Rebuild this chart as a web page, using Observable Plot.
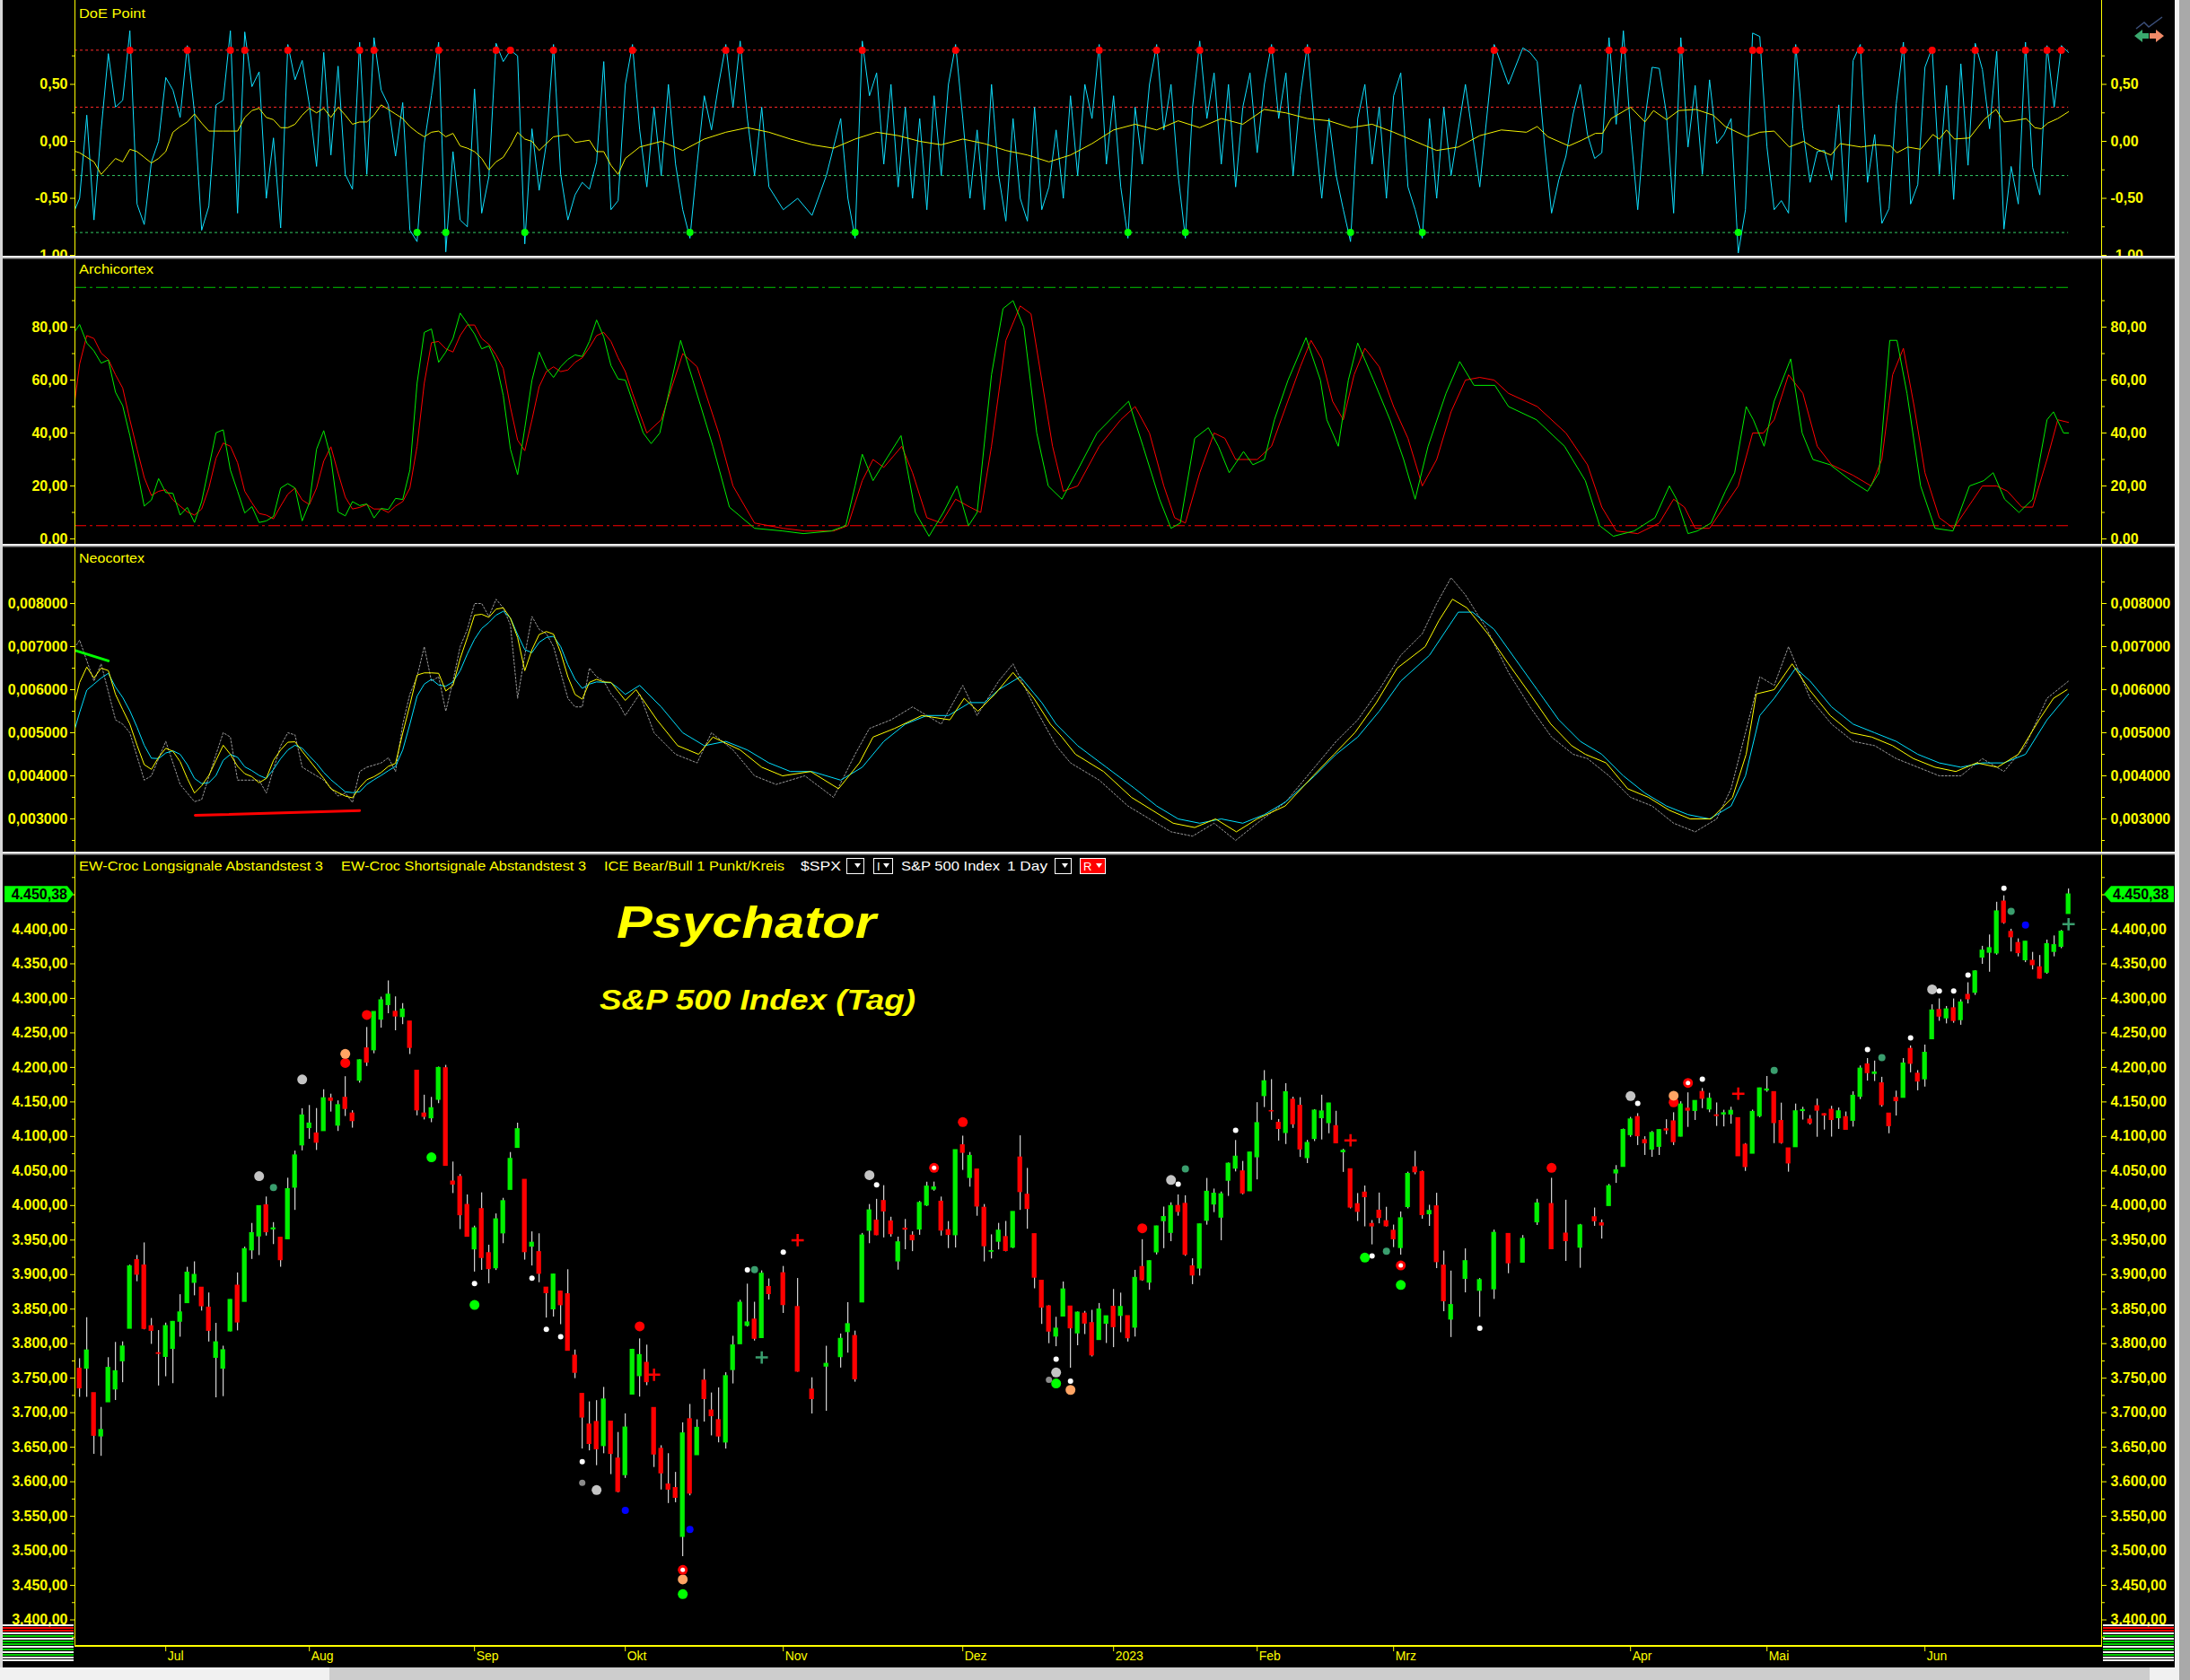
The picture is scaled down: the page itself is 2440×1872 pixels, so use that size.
<!DOCTYPE html>
<html><head><meta charset="utf-8">
<script src="https://cdn.jsdelivr.net/npm/d3@7"></script>
<script src="https://cdn.jsdelivr.net/npm/@observablehq/plot@0.6"></script>
<style>
html,body{margin:0;padding:0;background:#000;}
#wrap{position:relative;width:2440px;height:1872px;background:#000;overflow:hidden;font-family:"Liberation Sans",Arial,sans-serif;}
</style></head><body><div id="wrap"></div>
<script>
// ---------------- DATA ----------------
const monthLabels = ["Jul","Aug","Sep","Okt","Nov","Dez","2023","Feb","Mrz","Apr","Mai","Jun"];
const monthStartSlots = [12,32,55,76,98,123,144,164,183,216,235,257];
const emptySlots = [97,99,101,103,105,192,194,196,198,200,202,204,206,208,210];

const open = [
3763.5,3764.0,3728.2,3665.9,3715.3,3733.9,3774.7,3821.8,3920.8,3913.0,3825.1,3786.0,
3781.0,3792.6,3832.0,3858.9,3888.3,3880.9,3852.0,3779.7,3764.0,3818.0,3883.8,3860.7,3935.3,3955.5,4000.2,3965.7,3953.2,3951.4,4026.1,4087.3,
4112.4,4104.2,4108.0,4154.9,4115.9,4155.9,4133.1,4181.0,4227.4,4225.0,4269.4,4290.5,4280.4,4273.1,4266.3,4195.1,4133.1,4126.6,4153.3,4198.7,4034.6,4041.3,4000.7,
3936.7,3994.7,3930.9,3909.4,3959.9,4022.9,4083.7,4037.1,3940.7,3932.4,3881.0,3849.9,3875.2,3871.4,3782.4,3727.1,3682.7,3686.4,3651.9,3687.0,3633.5,
3609.8,3726.5,3753.2,3772.0,3706.7,3647.5,3595.9,3590.8,3520.4,3690.4,3638.7,3746.3,3703.1,3689.1,3657.1,3762.0,3799.4,3826.0,3834.7,3808.3,3881.9,
3901.8,3852.9,3733.3,3767.0,3780.7,3817.0,3810.9,3859.9,3963.7,3978.0,4006.4,3976.8,3919.3,3966.4,3956.2,3965.5,4000.3,4023.3,4005.4,3964.2,3957.2,
4087.1,4040.2,4052.0,3996.6,3933.3,3947.8,3954.2,3939.3,4069.4,4015.5,3958.4,3890.9,3853.8,3810.5,3839.5,3853.6,3815.1,3843.3,3829.6,3805.5,3829.1,
3853.3,3840.4,3839.7,3823.4,3910.8,3888.6,3932.4,3977.6,3960.6,3999.3,4002.3,3911.8,3909.0,3978.1,4001.7,3982.7,4036.1,4053.7,4049.3,4020.9,
4070.1,4158.7,4136.7,4119.6,4105.2,4153.1,4144.3,4068.9,4096.6,4126.7,4119.5,4114.8,4077.4,4052.4,4001.8,4018.6,3973.2,3992.4,3977.2,
3963.3,3938.7,3998.0,4055.2,4048.3,3987.6,3998.7,3912.8,3835.1,3894.0,3876.7,3878.9,3958.7,3917.5,3975.9,4002.0,3959.2,3939.2,3982.9,3974.1,3999.5,4046.7,4056.2,
4102.2,4128.0,4094.5,4081.2,4085.2,4110.3,4121.7,4100.0,4140.1,4137.2,4164.3,4139.3,4130.5,4132.1,4132.1,4126.4,4087.8,4075.3,4129.6,
4166.8,4164.1,4122.3,4082.6,4084.7,4137.0,4124.3,4143.7,4132.2,4138.5,4126.7,4127.9,4122.9,4157.7,4204.2,4190.8,4176.8,4133.0,4155.7,4156.2,4226.7,4190.7,
4183.0,4241.0,4283.0,4271.3,4285.5,4268.7,4304.9,4308.3,4359.3,4366.3,4365.3,4440.0,4396.1,4380.0,4355.4,4354.2,4344.8,4337.4,4367.5,4374.9,4422.4];
const high = [
3778.2,3837.6,3728.2,3707.7,3779.7,3801.8,3802.6,3913.7,3927.7,3945.9,3836.5,3819.0,
3829.8,3832.2,3870.9,3910.6,3918.5,3880.9,3873.4,3829.4,3796.4,3863.6,3902.4,3939.8,3974.1,3999.3,4012.4,3975.3,3953.2,4039.6,4078.9,4140.2,
4144.9,4140.5,4167.7,4161.3,4151.6,4186.6,4137.3,4211.0,4257.9,4280.5,4301.8,4325.3,4302.2,4292.5,4266.3,4195.1,4159.8,4156.6,4200.5,4203.0,4063.0,4045.0,4015.4,
3970.2,4018.4,3942.6,3987.9,4010.5,4076.8,4119.3,4037.1,3961.9,3959.1,3880.9,3900.5,3876.0,3907.1,3790.8,3727.1,3715.7,3717.5,3736.7,3687.0,3671.4,
3698.4,3791.9,3806.9,3797.9,3706.7,3652.2,3640.7,3613.6,3685.4,3712.0,3689.7,3762.8,3728.6,3736.0,3757.9,3810.7,3862.9,3886.2,3860.0,3905.4,3893.7,
3911.8,3894.4,3750.6,3796.3,3814.0,3859.4,3818.2,3959.6,4001.5,4009.0,4028.8,3983.1,3954.3,3979.9,3962.0,4005.9,4033.8,4034.0,4012.3,3976.8,4080.1,
4100.5,4076.8,4052.5,4001.5,3957.6,3974.2,3977.0,3990.7,4101.0,4053.8,3958.4,3890.9,3854.9,3838.2,3889.3,3853.6,3845.8,3846.7,3848.3,3858.2,3839.9,
3878.5,3873.2,3839.7,3906.2,3950.6,3919.8,3970.1,3997.8,4004.0,4015.4,4014.2,3922.9,3973.0,4039.3,4023.9,4019.6,4061.6,4094.2,4063.9,4077.2,
4149.0,4195.4,4182.4,4124.6,4176.5,4156.9,4156.2,4094.4,4138.9,4159.8,4148.1,4136.5,4081.5,4052.4,4017.4,4028.3,3978.3,4018.1,3997.5,
3971.7,3990.8,4048.3,4078.5,4050.0,4000.4,4017.8,3934.1,3905.1,3937.3,3894.3,3964.5,3958.9,3956.6,4009.1,4039.5,4007.7,3972.7,3996.4,3979.2,4030.6,4057.9,4110.8,
4127.7,4133.1,4099.7,4107.3,4109.5,4124.3,4134.4,4150.3,4163.2,4151.7,4169.5,4162.6,4148.6,4138.0,4142.4,4126.4,4089.7,4138.2,4170.1,
4186.9,4164.1,4148.3,4082.6,4147.0,4142.3,4130.4,4154.3,4132.8,4143.7,4141.3,4135.5,4164.7,4202.2,4212.9,4209.2,4185.7,4133.0,4165.7,4212.9,4231.1,4195.4,
4232.4,4290.7,4299.3,4288.3,4299.2,4298.0,4322.6,4340.1,4375.4,4391.8,4439.2,4448.5,4400.1,4386.2,4382.3,4366.6,4362.1,4384.4,4390.4,4398.4,4458.5];
const low = [
3722.3,3722.3,3639.8,3636.9,3715.3,3717.7,3743.5,3821.8,3889.7,3820.1,3799.0,3738.7,
3752.1,3742.1,3809.4,3858.9,3869.3,3847.2,3802.4,3721.6,3723.3,3817.2,3818.6,3860.7,3922.0,3927.6,3955.8,3943.5,3910.7,3951.4,3993.0,4079.2,
4096.0,4079.8,4108.0,4135.4,4107.3,4129.0,4112.1,4177.3,4201.4,4219.8,4256.9,4277.8,4253.1,4262.0,4218.7,4129.9,4124.0,4120.0,4147.6,4057.7,4017.4,3965.2,3954.5,
3903.7,3906.2,3886.8,3906.0,3944.8,4022.9,4083.7,3921.0,3912.5,3888.3,3837.1,3838.5,3827.5,3789.5,3749.4,3647.5,3644.8,3623.3,3640.6,3610.4,3584.1,
3604.9,3726.5,3722.7,3739.2,3620.7,3588.1,3568.5,3569.7,3491.6,3579.7,3638.7,3686.5,3666.5,3656.4,3647.4,3741.7,3799.4,3824.1,3803.8,3808.3,3863.2,
3843.8,3758.7,3698.2,3702.1,3764.7,3786.3,3744.2,3859.9,3944.8,3956.4,3953.2,3954.3,3906.5,3936.0,3933.3,3956.9,3998.7,4020.8,3955.8,3937.7,3938.6,
4050.9,4026.6,3984.5,3918.4,3922.7,3935.8,3933.0,3937.7,3993.0,3965.7,3879.5,3827.9,3800.0,3795.6,3839.5,3764.5,3797.0,3813.2,3780.8,3805.5,3800.3,
3794.3,3815.8,3802.4,3809.6,3890.4,3877.3,3928.5,3937.6,3947.7,3984.6,3926.6,3885.5,3897.9,3971.6,3989.8,3949.1,4013.3,4048.7,4015.6,4020.4,
4037.2,4141.9,4123.4,4093.4,4088.4,4111.7,4069.7,4060.8,4092.7,4095.0,4104.0,4089.4,4048.0,3995.2,3976.9,3969.2,3943.1,3973.6,3969.0,
3939.1,3928.2,3995.2,4044.6,3980.3,3969.8,3908.7,3846.3,3808.9,3873.6,3838.2,3864.1,3901.3,3916.9,3971.2,3936.2,3919.1,3909.2,3969.9,3951.5,3999.5,4032.1,4056.2,
4098.8,4086.9,4072.6,4069.8,4072.5,4102.6,4086.9,4099.4,4113.2,4123.2,4140.4,4134.5,4114.6,4113.9,4117.8,4071.4,4049.4,4075.3,4127.2,
4164.1,4089.7,4088.9,4048.3,4084.7,4123.8,4116.7,4098.9,4109.3,4099.1,4110.3,4109.9,4113.6,4153.5,4180.2,4179.7,4142.5,4104.0,4129.7,4156.2,4192.2,4166.2,
4171.6,4241.0,4266.8,4263.1,4264.0,4261.1,4292.0,4304.4,4349.3,4337.9,4362.6,4407.4,4367.2,4360.1,4351.8,4341.3,4328.1,4335.0,4360.2,4372.0,4422.4];
const close = [
3735.5,3790.0,3666.8,3674.8,3764.8,3759.9,3795.7,3911.7,3900.1,3821.6,3818.8,3785.4,
3825.3,3831.4,3845.1,3902.6,3899.4,3854.4,3818.8,3801.8,3790.4,3863.2,3830.9,3936.7,3959.9,3999.0,3961.6,3966.8,3921.1,4023.6,4072.4,4130.3,
4118.6,4091.2,4155.2,4151.9,4145.2,4140.1,4122.5,4210.2,4207.3,4280.2,4297.1,4305.2,4274.0,4283.7,4228.5,4138.0,4128.7,4140.8,4199.1,4057.7,4030.6,3986.2,3955.0,
3966.9,3924.3,3908.2,3979.9,4006.2,4067.4,4110.4,3932.7,3946.0,3901.4,3873.3,3899.9,3855.9,3789.9,3758.0,3693.2,3655.0,3647.3,3719.0,3640.5,3585.6,
3678.4,3790.9,3783.3,3744.5,3639.7,3612.4,3588.8,3577.0,3669.9,3583.1,3678.0,3720.0,3695.2,3665.8,3752.8,3797.3,3859.1,3830.6,3807.3,3901.1,3872.0,
3856.1,3759.7,3719.9,3770.6,3806.8,3828.1,3748.6,3956.4,3992.9,3957.3,3991.7,3958.8,3946.6,3965.3,3949.9,4003.6,4027.3,4026.1,3963.9,3957.6,4080.1,
4076.6,4071.7,3998.8,3941.3,3933.9,3963.5,3934.4,3990.6,4019.7,3995.3,3895.8,3852.4,3817.7,3821.6,3878.4,3822.4,3844.8,3829.3,3783.2,3849.3,3839.5,
3824.1,3853.0,3808.1,3895.1,3892.1,3919.3,3969.6,3983.2,3999.1,3991.0,3928.9,3898.9,3972.6,4019.8,4017.0,4016.2,4060.4,4070.6,4017.8,4076.6,
4119.2,4179.8,4136.5,4111.1,4164.0,4117.9,4081.5,4090.5,4137.3,4136.1,4147.6,4090.4,4079.1,3997.3,3991.1,4012.3,3970.0,3982.2,3970.2,
3951.4,3981.4,4045.6,4048.4,3986.4,3992.0,3918.3,3861.6,3855.8,3919.3,3891.9,3960.3,3916.6,3951.6,4002.9,3937.0,3948.7,3971.0,3977.5,3971.3,4027.8,4050.8,4109.3,
4124.5,4100.6,4090.4,4105.0,4109.1,4108.9,4092.0,4146.2,4137.6,4151.3,4154.9,4154.5,4129.8,4133.5,4137.0,4071.6,4056.0,4135.4,4169.5,
4167.9,4119.6,4090.8,4061.2,4136.3,4138.1,4119.2,4137.6,4130.6,4124.1,4136.3,4109.9,4158.8,4198.1,4192.0,4192.6,4145.6,4115.2,4151.3,4205.5,4205.5,4179.8,
4221.0,4282.4,4273.8,4283.9,4267.5,4293.9,4298.9,4338.9,4369.0,4372.6,4425.8,4409.6,4388.7,4365.7,4381.9,4348.3,4328.8,4378.4,4376.9,4396.4,4450.38];

// signal markers on the price chart: [slot, price]
const sigGray = [[25,4042.6],[31,4182.5],[72,3588],[110,4044],[136,3758.3],[152,4037],[216,4158.5],[258,4313]];
const sigDarkGray = [[70,3598.5],[135,3747.6]];
const sigWhite = [[55,3887],[63,3894.7],[65,3820.7],[67,3810],[70,3629],[93,3906.7],[98,3932.6],[111,4030],[136,3777.4],[138,3745.6],[153,4031],[161,4109],[180,3927],[195,3822.5],[217,4148],[226,4183],[249,4225.9],[255,4242.6],[259,4310.6],[261,4310.6],[263,4333.7],[268,4459.6]];
const sigSea = [[27,4026],[94,3907.3],[154,4053],[182,3933.8],[236,4195.7],[251,4214.3],[269,4426]];
const sigRed = [[37,4206.4],[40,4276],[78,3825],[123,4120.9],[148,3967],[205,4054.6],[222,4149.5]];
const sigOrange = [[37,4219.6],[84,3458.6],[138,3733],[222,4159]];
const sigGreen = [[49,4069.8],[55,3856],[84,3437.3],[136,3742.3],[179,3924.6],[184,3884.9]];
const sigBlue = [[76,3558.5],[85,3531],[271,4406.2]];
const sigRing = [[84,3472.4],[119,4054.6],[184,3913.3],[224,4177.6]];
const sigRedPlus = [[80,3755],[100,3949.8],[177,4094.3],[231,4162]];
const sigSeaPlus = [[95,3780],[277,4407.4]];

// DoE Point
const doeLevelsRed = [0.8, 0.3];
const doeLevelsGreen = [-0.3, -0.8];
const doeCyanDense = [-0.5,0.23,-0.69,0.1,0.77,0.3,0.36,0.97,-0.55,-0.73,-0.18,0.0,0.56,0.45,0.21,0.84,0.25,-0.78,-0.57,0.32,0.36,0.97,-0.63,0.96,0.48,0.61,-0.5,0.03,-0.76,0.85,0.54,0.71,0.32,-0.22,0.78,-0.12,0.66,-0.29,-0.42,0.87,-0.29,0.91,0.45,0.32,-0.13,0.34,-0.78,-0.88,-0.02,0.4,0.87,-0.97,-0.09,-0.69,-0.75,0.46,-0.63,-0.31,0.86,0.7,0.8,0.75,-0.9,0.11,-0.43,-0.02,0.85,-0.29,-0.69,-0.47,-0.36,-0.42,-0.18,0.7,-0.6,-0.52,0.5];
const doeCyanMore = [[-1,-0.65],[77,0.85],[78,0.1],[79,-0.4],[80,0.3],[81,-0.3],[82,0.5],[83,-0.2],[84,-0.6],[85,-0.85],[86,-0.2],[87,0.4],[88,0.1],[89,0.5],[90,0.85],[91,0.3],[92,0.88],[93,0.2],[94,-0.3],[95,0.3],[96,-0.4],[98,-0.6],[100,-0.5],[102,-0.65],[104,-0.3],[106,0.2],[107,-0.5],[108,-0.85],[109,0.88],[110,0.4],[111,0.6],[112,-0.2],[113,0.5],[114,-0.4],[115,0.3],[116,-0.5],[117,0.2],[118,-0.6],[119,0.4],[120,-0.3],[121,0.5],[122,0.85],[123,0.2],[124,-0.5],[125,0.1],[126,-0.6],[127,0.5],[128,-0.3],[129,-0.7],[130,0.2],[131,-0.5],[132,-0.7],[133,0.3],[134,-0.6],[135,-0.4],[136,0.1],[137,-0.5],[138,0.4],[139,-0.3],[140,0.5],[141,0.2],[142,0.85],[143,-0.2],[144,0.4],[145,-0.4],[146,-0.85],[147,0.3],[148,-0.2],[149,0.5],[150,0.85],[151,0.1],[152,0.5],[153,-0.3],[154,-0.85],[155,0.3],[156,0.88],[157,0.2],[158,0.6],[159,-0.2],[160,0.5],[161,-0.4],[162,0.3],[163,0.6],[164,-0.1],[165,0.5],[166,0.85],[167,0.2],[168,0.6],[169,-0.3],[170,0.4],[171,0.85],[172,0.1],[173,-0.5],[174,0.2],[175,-0.3],[176,-0.6],[177,-0.88],[178,0.2],[179,0.5],[180,-0.2],[181,0.3],[182,-0.5],[183,0.4],[184,0.6],[185,-0.4],[186,-0.6],[187,-0.85],[188,0.2],[189,-0.5],[190,0.3],[191,-0.3],[193,0.5],[195,-0.4],[197,0.85],[199,0.5],[201,0.82],
[202,0.78],[203,0.7],[204,-0.02],[205,-0.63],[206,-0.34],[207,-0.13],[208,0.24],[209,0.5],[210,0.06],[211,-0.15],[212,-0.1],[213,0.91],[214,0.15],[215,0.97],[216,0.1],[217,-0.6],[218,0.19],[219,0.65],[220,0.64],[221,0.24],[222,-0.63],[223,0.91],[224,-0.05],[225,0.49],[226,-0.29],[227,0.54],[228,-0.02],[229,0.06],[230,0.2],[231,-0.98],[232,-0.6],[233,0.95],[234,0.92],[235,-0.05],[236,-0.6],[237,-0.52],[238,-0.63],[239,0.85],[240,0.11],[241,-0.36],[242,-0.09],[243,-0.08],[244,-0.34],[245,0.32],[246,-0.71],[247,0.71],[248,0.85],[249,-0.36],[250,0.06],[251,-0.72],[252,-0.59],[253,0.33],[254,0.87],[255,-0.55],[256,-0.38],[257,0.65],[258,0.82],[259,-0.29],[260,0.49],[261,-0.51],[262,0.68],[263,-0.21],[264,0.86],[265,0.63],[266,0.11],[267,0.79],[268,-0.77],[269,-0.22],[270,-0.55],[271,0.87],[272,-0.23],[273,-0.47],[274,0.84],[275,0.3],[276,0.84],[277,0.78]];
const doeYellowDense = [-0.1,-0.14,-0.18,-0.29,-0.22,-0.15,-0.18,-0.07,-0.09,-0.14,-0.19,-0.15,-0.09,0.08,0.13,0.17,0.24,0.16,0.09,0.09,0.09,0.09,0.09,0.21,0.27,0.29,0.21,0.19,0.12,0.12,0.15,0.23,0.29,0.25,0.29,0.21,0.3,0.23,0.15,0.17,0.17,0.23,0.32,0.28,0.24,0.2,0.13,0.08,0.04,0.08,0.09,0.04,0.07,-0.04,-0.06,-0.09,-0.15,-0.25,-0.18,-0.14,-0.04,0.08,0.02,0.0,-0.08,-0.02,0.04,0.05,0.06,-0.01,0.0,0.01,-0.09,-0.09,-0.21,-0.29,-0.15];
const doeYellowMore = [[-1,-0.08],[78,-0.05],[81,0.0],[84,-0.08],[87,0.02],[90,0.08],[93,0.12],[96,0.08],[99,0.02],[102,-0.03],[105,-0.06],[108,0.02],[111,0.08],[114,0.05],[117,0.0],[120,-0.03],[123,0.02],[126,-0.02],[129,-0.08],[132,-0.12],[135,-0.18],[138,-0.12],[141,-0.02],[144,0.1],[147,0.15],[150,0.1],[153,0.18],[156,0.12],[159,0.2],[162,0.15],[165,0.28],[168,0.25],[171,0.2],[174,0.18],[177,0.12],[180,0.15],[183,0.08],[186,0.0],[189,-0.08],[192,-0.05],[195,0.05],[198,0.1],[201.5,0.08],[203,0.13],[204.5,0.04],[207.4,-0.04],[209.2,0.01],[211.1,0.07],[212.1,0.07],[213.3,0.2],[216,0.3],[218,0.17],[219.2,0.27],[221,0.19],[222.7,0.27],[225.1,0.28],[227.5,0.23],[229.2,0.13],[232.2,0.04],[234,0.08],[236,0.09],[238.1,-0.05],[240.1,0],[241.6,-0.06],[243.9,-0.12],[245.2,-0.02],[248.1,-0.05],[250.2,-0.03],[252.2,-0.04],[253.1,-0.1],[254.6,-0.05],[256.4,-0.07],[258.1,0.06],[259,0.02],[260,0.1],[261.1,0.02],[263.2,0.03],[265.2,0.19],[266.9,0.28],[268,0.17],[269.3,0.18],[271.1,0.2],[272.3,0.12],[273.2,0.11],[274.1,0.16],[275.5,0.2],[277,0.26]];
const doeRedDots = [7,15,21,23,29,39,41,50,58,60,66,77,90,92,109,122,142,150,156,166,171,197,213,215,223,233,234,239,248,254,258,264,271,274,276];
const doeGreenDots = [47,51,62,85,108,146,154,177,187,231];

// Archicortex
const archiLevelTop = [95];
const archiLevelBottom = [5];
const archiGreenDense = [81,74,71,66.4,67.6,55.4,50.3,39,26,12.4,14.7,22.8,17.5,17.2,9,11.9,6.2,14.1,27.1,40.1,41.2,26,18,9.8,12.2,6.2,6.8,8.5,19.2,20.9,19.2,6.8,13.6,33.9,40.9,30.5,10.2,8.7,14.1,12.6,13.2,7.9,11.5,11.1,15.3,14.9,26,58.8,78,79.3,66.7,70.6,75.7,85.3,81.4,77.4,71.8,72.9,66.7,54.2,33.9,24.3,41.8,59.9,70.6,64.4,61,65,67.8,69.5,68.9,74.6,82.7,76.3,65.5,60.4,60];
const archiGreenMore = [[-1,77],[78.5,40],[79.6,36],[80.8,40],[83.7,75],[85.4,60],[88.2,35],[90.5,12],[94,4],[97.9,3],[100.8,2],[104.7,3],[106.7,5],[108,20],[109,32],[110.5,22],[112.3,30],[114.4,39],[116.4,10],[118.3,1],[120.3,10],[122.2,20],[123.8,5],[125,10],[127,62],[128.6,87],[130,90],[131.5,80],[133.3,40],[134.9,20],[136.8,15],[138.8,25],[141.7,40],[144.6,48],[146.1,52],[148.1,35],[150.4,15],[152,4],[153.3,6],[155.3,38],[157.2,42],[158.6,35],[160.1,25],[162.1,33],[163.4,28],[165,30],[166.4,45],[168.3,60],[170.8,76],[172.8,60],[173.7,45],[175.3,35],[176.7,60],[178,74],[180.2,60],[182.5,45],[184.4,30],[186,15],[187.8,35],[190.3,55],[192.2,67],[194.2,58],[197.1,58],[199,50],[202.9,45],[206.8,35],[209.7,22],[211.7,5],[213.6,1],[216.5,3],[219.4,8],[221.4,20],[222.4,15],[224,2],[225.3,3],[227.2,6],[229.2,18],[230.5,25],[232.1,50],[233.1,45],[234.6,35],[236,52],[238.3,68],[239.9,40],[241.4,30],[243.8,28],[246.7,22],[249,18],[250.6,25],[252.1,75],[253.1,75],[254.5,55],[256.4,20],[258.4,4],[260.9,3],[263.2,20],[265.2,22],[266.5,25],[268.1,15],[270.1,10],[272,15],[274,45],[274.9,48],[276.3,40],[277,40]];
const archiRedDense = [66,76.8,75.7,70.2,67.8,62,57,45,33.9,23.2,16.4,18,18.6,14.7,12.4,10.2,9,11.3,19.2,30.5,36.2,35,28.8,18,13.6,9.6,9,7.6,12.4,16.9,19.2,14.7,13,19.2,29.4,34.8,24.9,15.8,11.3,11.9,13,11.3,11.3,10,12.4,14.1,19.2,35,58.8,74.1,74.6,71.8,70.6,76.8,80.8,80.8,75.7,73.5,69.5,64.4,49.7,37.3,33.3,45,57.5,63.2,65,63.2,63.8,66.7,68.4,72.3,76.8,78,74.6,68.4,63.2];
const archiRedMore = [[-1,45],[77,55],[79,40],[81,45],[84,70],[86,65],[89,40],[91,20],[94,6],[98,4],[101,3],[105,3],[107,5],[109,22],[110.5,30],[112,27],[114.5,35],[116,25],[118,8],[120,6],[122,15],[124,12],[125.5,10],[127,35],[129,75],[131,88],[132.5,85],[134,60],[135.5,35],[137,18],[139,20],[142,35],[145,45],[147,50],[149,40],[151,20],[152.5,8],[154,6],[156,25],[158,40],[159.5,38],[161,30],[162.5,30],[164,30],[166,35],[168,50],[170,65],[171.5,75],[173,68],[174.5,52],[176,45],[177.5,62],[179,72],[181,65],[183,50],[185,38],[187,20],[189,30],[191,48],[193,60],[195,61],[197,60],[199,55],[203,50],[207,40],[210,28],[212,12],[214,3],[217,2],[220,6],[222,15],[223.5,12],[225,4],[227,4],[229,12],[231,20],[233,40],[234.5,40],[236,45],[238,62],[240,55],[242,35],[244,28],[247,24],[249.5,20],[251,30],[252.5,62],[254,72],[255.5,50],[257,25],[259,8],[261,4],[263,12],[265,20],[267,20],[268.5,18],[270.5,12],[272,12],[274,30],[275.5,45],[277,44]];

// Neocortex
const neoYellowDense = [0.006167,0.006527,0.00627,0.0065,0.006444,0.00589,0.00554,0.0052,0.00471,0.00426,0.00415,0.00443,0.00464,0.00457,0.00433,0.00394,0.0036,0.00377,0.00401,0.00436,0.00471,0.0045,0.00422,0.00405,0.00398,0.00384,0.00394,0.00436,0.0046,0.00478,0.00479,0.00457,0.00436,0.00415,0.00394,0.0037,0.00361,0.00353,0.00349,0.00373,0.00391,0.00398,0.00408,0.00422,0.00429,0.00499,0.00565,0.00634,0.00639,0.00639,0.00638,0.00597,0.0061,0.00672,0.00721,0.00773,0.00775,0.00768,0.00787,0.0079,0.00766,0.00721,0.00644,0.00693,0.00728,0.00735,0.00729,0.00686,0.0063,0.00589,0.00578,0.00617,0.00624,0.00618,0.00617,0.00596,0.00575];
const neoYellowMore = [[-1,0.0055],[77.5,0.0060],[80.4,0.0053],[83.3,0.0047],[86.2,0.0045],[88.2,0.0049],[92,0.0046],[95,0.0042],[97.9,0.0040],[101.8,0.0041],[105.7,0.0037],[108.6,0.0043],[110.5,0.0049],[113.5,0.0051],[117.3,0.0054],[121.2,0.0053],[123.2,0.0058],[125.1,0.0055],[127.5,0.0059],[130,0.0064],[132.9,0.0058],[135.2,0.0052],[136.8,0.0049],[138.7,0.0045],[142.6,0.0041],[146.5,0.0035],[149.4,0.0032],[152.3,0.0029],[155.3,0.0028],[158.2,0.0030],[161.1,0.0027],[164,0.0030],[167.9,0.0033],[171.8,0.0040],[174.7,0.0045],[177.6,0.0050],[180.6,0.0057],[183.5,0.0065],[187.4,0.0070],[189.3,0.0076],[191.2,0.0081],[193.2,0.0079],[196.1,0.0073],[199,0.0066],[202,0.0059],[204.9,0.0052],[207.8,0.0047],[209.7,0.0045],[212.6,0.0043],[215.6,0.0037],[218.5,0.0035],[221.4,0.0032],[224.3,0.0030],[227.2,0.0030],[230.2,0.0035],[232.1,0.0045],[233.5,0.0059],[236,0.0060],[238.5,0.0066],[240.9,0.0060],[243.8,0.0054],[246.7,0.0050],[249.6,0.0049],[252.5,0.0047],[255.4,0.0044],[258.4,0.0042],[261.3,0.0041],[264.2,0.0043],[267.1,0.0042],[270,0.0045],[272.9,0.0053],[274.9,0.0058],[276.8,0.0060]];
const neoCyanDense = [0.00547,0.00599,0.00613,0.00627,0.00638,0.00606,0.00582,0.00551,0.00513,0.00471,0.00441,0.0044,0.00453,0.00458,0.0045,0.00426,0.00394,0.00382,0.00384,0.00401,0.00436,0.0045,0.00443,0.00421,0.00412,0.00401,0.00394,0.00415,0.0044,0.0046,0.00471,0.00464,0.00446,0.00429,0.00408,0.00391,0.00377,0.00363,0.00361,0.00363,0.0038,0.00391,0.00401,0.00412,0.00422,0.0046,0.0052,0.00585,0.00613,0.00624,0.00611,0.00608,0.00618,0.00644,0.00683,0.00717,0.00742,0.00756,0.00773,0.00782,0.00766,0.00728,0.00693,0.00686,0.0071,0.00721,0.00724,0.007,0.00658,0.00624,0.00603,0.00613,0.00618,0.00617,0.00616,0.00604,0.00589];
const neoCyanMore = [[-1,0.0049],[78,0.0061],[81,0.0056],[84,0.0050],[87,0.0047],[90,0.0048],[93,0.0046],[96,0.0043],[99,0.0041],[102,0.0041],[106,0.0039],[109,0.0042],[112,0.0048],[115,0.0052],[118,0.0054],[121,0.0054],[124,0.0057],[126,0.0057],[128,0.0060],[131,0.0063],[134,0.0057],[136,0.0052],[139,0.0047],[143,0.0042],[147,0.0037],[150,0.0033],[153,0.0030],[156,0.0029],[159,0.0030],[162,0.0029],[165,0.0031],[168,0.0034],[172,0.0040],[175,0.0045],[178,0.0049],[181,0.0055],[184,0.0062],[188,0.0068],[190,0.0073],[192,0.0078],[194,0.0078],[197,0.0074],[200,0.0067],[203,0.0060],[206,0.0053],[209,0.0048],[212,0.0045],[215,0.0040],[218,0.0036],[221,0.0033],[224,0.0031],[227,0.0030],[230,0.0033],[232,0.0040],[234,0.0054],[236,0.0058],[239,0.0065],[241,0.0062],[244,0.0056],[247,0.0052],[250,0.0050],[253,0.0048],[256,0.0045],[259,0.0043],[262,0.0042],[265,0.0043],[268,0.0043],[271,0.0045],[274,0.0053],[277,0.0059]];
const neoGray = [[-1,0.0069],[0,0.00715],[2,0.0062],[3,0.0066],[5,0.0053],[6,0.0052],[7,0.0050],[9,0.0039],[10,0.0040],[12,0.0048],[14,0.0038],[16,0.0034],[17,0.00345],[19,0.0045],[20,0.0050],[21,0.0049],[22,0.0039],[23,0.0039],[25,0.0039],[26,0.0036],[28,0.0047],[29,0.0050],[30,0.00495],[31,0.0042],[32,0.0041],[34,0.0039],[36,0.00353],[37,0.0036],[38,0.00338],[39,0.0041],[40,0.0042],[42,0.0043],[43,0.00442],[44,0.0041],[45,0.0052],[46,0.0059],[47,0.0063],[48,0.0070],[49,0.0062],[50,0.0063],[51,0.0055],[52,0.0062],[53,0.0070],[54,0.0074],[55,0.0080],[56,0.0080],[57,0.0077],[58,0.0081],[59,0.0079],[60,0.0075],[61,0.0058],[62,0.0068],[63,0.0077],[64,0.0074],[65,0.0073],[66,0.0070],[67,0.0064],[68,0.0058],[69,0.0056],[70,0.0056],[71,0.0065],[72,0.0063],[73,0.0062],[74,0.0059],[75,0.0057],[76,0.0054],
[78,0.0059],[80,0.0050],[83,0.0045],[86,0.0043],[88,0.0050],[91,0.0046],[94,0.0040],[97,0.0038],[101,0.0040],[105,0.0035],[108,0.0045],[110,0.0051],[113,0.0053],[116,0.0056],[120,0.0052],[123,0.0061],[125,0.0054],[128,0.0062],[130,0.0066],[133,0.0056],[136,0.0047],[138,0.0043],[142,0.0039],[146,0.0033],[149,0.0030],[152,0.0027],[155,0.0026],[158,0.0029],[161,0.0025],[164,0.0029],[168,0.0034],[172,0.0042],[175,0.0048],[178,0.0053],[181,0.0060],[184,0.0068],[187,0.0073],[189,0.0080],[191,0.0086],[193,0.0082],[196,0.0074],[199,0.0064],[202,0.0056],[205,0.0049],[208,0.0045],[210,0.0044],[213,0.0040],[216,0.0035],[219,0.0033],[222,0.0029],[225,0.0027],[228,0.0030],[230,0.0037],[232,0.0050],[234,0.0063],[236,0.0061],[238,0.0070],[241,0.0058],[244,0.0052],[247,0.0048],[250,0.0047],[253,0.0044],[256,0.0042],[259,0.0040],[262,0.0040],[265,0.0044],[268,0.0041],[271,0.0047],[274,0.0058],[277,0.0062]];
const neoGreenTrend = [[-0.6,0.00691],[4,0.00667]];
const neoRedTrend = [[16.1,0.003083],[39,0.003194]];

// ---------------- BUILD ----------------
const YEL = "#ffff00", GRN = "#00f000", RED = "#ff0000";
const wrap = document.getElementById("wrap");
const loc = d3.formatLocale({decimal:",", thousands:".", grouping:[3], currency:["",""], minus:"-"});
const f2 = loc.format(",.2f"), f6 = loc.format(",.6f");
const X_DOMAIN = [-0.65, 281.6];

// assign slots to trading days
const slots = [];
{ let s = 0; for (let i = 0; i < close.length; i++) { while (emptySlots.includes(s)) s++; slots.push(s); s++; } }
const candles = close.map((c, i) => ({slot: slots[i], o: open[i], h: high[i], l: low[i], c}));
const lastSlot = slots[slots.length - 1];
const lastClose = close[close.length - 1];

const dense = (arr, more) => arr.map((v, i) => [i, v]).concat(more).sort((a, b) => a[0] - b[0]);

function yAxes(major, minor, fmt) {
  return [
    Plot.axisY({anchor: "left", ticks: major, tickFormat: fmt, tickSize: 5, tickPadding: 3, stroke: YEL, fill: YEL, label: null}),
    Plot.axisY({anchor: "right", ticks: major, tickFormat: fmt, tickSize: 5, tickPadding: 5, stroke: YEL, fill: YEL, label: null}),
    Plot.axisY({anchor: "left", ticks: minor, tickFormat: () => "", tickSize: 3, stroke: YEL, label: null}),
    Plot.axisY({anchor: "right", ticks: minor, tickFormat: () => "", tickSize: 3, stroke: YEL, label: null})
  ];
}
function panel(top, height, domain, marks, mb = 0, ovf = "hidden") {
  const svg = Plot.plot({
    width: 2440, height, marginLeft: 83, marginRight: 99, marginTop: 0, marginBottom: mb,
    x: {domain: X_DOMAIN, axis: null, label: null}, y: {domain, axis: null, label: null},
    style: {background: "transparent", color: YEL, fontFamily: "'Liberation Sans', Arial, sans-serif", fontSize: "16px", fontWeight: "bold", overflow: ovf},
    marks
  });
  svg.style.position = "absolute"; svg.style.left = "0px"; svg.style.top = top + "px";
  wrap.appendChild(svg);
  return svg;
}
const P = (d) => d[0], V = (d) => d[1];

// Panel 1: DoE Point
panel(0, 285, [(157 - 285) / 127, 157 / 127], [
  ...yAxes([-1, -0.5, 0, 0.5], [-0.75, -0.25, 0.25, 0.75], loc.format(",.2f")),
  Plot.ruleY(doeLevelsRed, {y: d => d, x1: X_DOMAIN[0], x2: lastSlot, stroke: "#ff2a2a", strokeDasharray: "3,3", strokeWidth: 1}),
  Plot.ruleY(doeLevelsGreen, {y: d => d, x1: X_DOMAIN[0], x2: lastSlot, stroke: "#33cc66", strokeDasharray: "3,3", strokeWidth: 1}),
  Plot.line(dense(doeCyanDense, doeCyanMore), {x: P, y: V, stroke: "#10e0ff", strokeWidth: 1, clip: true}),
  Plot.line(dense(doeYellowDense, doeYellowMore), {x: P, y: V, stroke: "#f2f200", strokeWidth: 1, clip: true}),
  Plot.dot(doeRedDots, {x: d => d, y: () => doeLevelsRed[0], r: 4, fill: "#ff0000"}),
  Plot.dot(doeGreenDots, {x: d => d, y: () => doeLevelsGreen[1], r: 4, fill: "#00ff00"})
]);

// Panel 2: Archicortex
panel(288, 318, [(600 - 606) / 2.95, (600 - 288) / 2.95], [
  ...yAxes([0, 20, 40, 60, 80], [10, 30, 50, 70, 90], loc.format(",.2f")),
  Plot.ruleY(archiLevelTop, {y: d => d, x1: X_DOMAIN[0], x2: lastSlot, stroke: "#00c800", strokeDasharray: "13,4,3,4", strokeWidth: 1}),
  Plot.ruleY(archiLevelBottom, {y: d => d, x1: X_DOMAIN[0], x2: lastSlot, stroke: "#ff0000", strokeDasharray: "13,4,3,4", strokeWidth: 1}),
  Plot.line(dense(archiRedDense, archiRedMore), {x: P, y: V, stroke: "#ff0000", strokeWidth: 1, clip: true}),
  Plot.line(dense(archiGreenDense, archiGreenMore), {x: P, y: V, stroke: "#00ee00", strokeWidth: 1, clip: true})
], 0, "visible");

// Panel 3: Neocortex
panel(609, 340, [0.008 - (949 - 672) / 48000, 0.008 + (672 - 609) / 48000], [
  ...yAxes([0.003, 0.004, 0.005, 0.006, 0.007, 0.008], [0.0025, 0.0035, 0.0045, 0.0055, 0.0065, 0.0075, 0.0085], f6),
  Plot.line(neoGray, {x: P, y: V, stroke: "#9a9a9a", strokeDasharray: "2,2", strokeWidth: 1, clip: true}),
  Plot.line(dense(neoCyanDense, neoCyanMore), {x: P, y: V, stroke: "#00e0ff", strokeWidth: 1, clip: true}),
  Plot.line(dense(neoYellowDense, neoYellowMore), {x: P, y: V, stroke: "#ffff00", strokeWidth: 1, clip: true}),
  Plot.line(neoGreenTrend, {x: P, y: V, stroke: "#00ff00", strokeWidth: 3, clip: true}),
  Plot.line(neoRedTrend, {x: P, y: V, stroke: "#ff0000", strokeWidth: 3, clip: true})
]);

// Panel 4: price chart
const priceMajor = d3.range(3400, 4451, 50), priceMinor = d3.range(3375, 4501, 50);
const main = panel(952, 906, [4000 - (1834 - 1342.8) / 0.7695, 4000 + (1342.8 - 952) / 0.7695], [
  ...yAxes(priceMajor, priceMinor, f2),
  Plot.axisX({anchor: "bottom", ticks: monthStartSlots, tickFormat: () => "", tickSize: 6, stroke: YEL, label: null}),
  Plot.text(monthStartSlots, {x: d => d, text: (d, i) => monthLabels[i], frameAnchor: "bottom", dy: 15, dx: 2, textAnchor: "start", fill: YEL, fontSize: 14, fontWeight: "normal"}),
  Plot.ruleX(candles, {x: "slot", y1: "l", y2: "h", stroke: "#ffffff", strokeWidth: 1, clip: true}),
  Plot.rect(candles, {x1: d => d.slot - 0.33, x2: d => d.slot + 0.33, y1: d => Math.min(d.o, d.c), y2: d => Math.max(d.o, d.c), fill: d => d.c >= d.o ? GRN : RED, insetTop: -0.7, insetBottom: -0.7, clip: true}),
  Plot.dot(sigGray, {x: P, y: V, r: 5.5, fill: "#c4c4c4"}),
  Plot.dot(sigDarkGray, {x: P, y: V, r: 3.5, fill: "#8a8a8a"}),
  Plot.dot(sigWhite, {x: P, y: V, r: 3, fill: "#ffffff"}),
  Plot.dot(sigSea, {x: P, y: V, r: 4, fill: "#3a9e6e"}),
  Plot.dot(sigRed, {x: P, y: V, r: 5.5, fill: "#ff0000"}),
  Plot.dot(sigOrange, {x: P, y: V, r: 5.5, fill: "#ffa464"}),
  Plot.dot(sigGreen, {x: P, y: V, r: 5.5, fill: "#00ff00"}),
  Plot.dot(sigBlue, {x: P, y: V, r: 4, fill: "#0000ff"}),
  Plot.dot(sigRing, {x: P, y: V, r: 5.5, fill: "#ff0000"}),
  Plot.dot(sigRing, {x: P, y: V, r: 2.5, fill: "#ffffff"}),
  Plot.dot(sigRedPlus, {x: P, y: V, r: 4.5, symbol: "plus", stroke: "#ff0000", strokeWidth: 2.5}),
  Plot.dot(sigSeaPlus, {x: P, y: V, r: 4.5, symbol: "plus", stroke: "#3a9e6e", strokeWidth: 2.5})
], 24);

// ---------------- OVERLAY (frame, labels, legend) ----------------
const ov = d3.select(wrap).append("svg").attr("width", 2440).attr("height", 1872)
  .style("position", "absolute").style("left", "0px").style("top", "0px")
  .style("font-family", "'Liberation Sans', Arial, sans-serif");
// axis lines
ov.append("line").attr("x1", 83.5).attr("x2", 83.5).attr("y1", 0).attr("y2", 1834).attr("stroke", YEL);
ov.append("line").attr("x1", 2341.5).attr("x2", 2341.5).attr("y1", 0).attr("y2", 1834).attr("stroke", YEL);
ov.append("rect").attr("x", 83).attr("y", 1833).attr("width", 2259).attr("height", 2).attr("fill", YEL);
// panel separators
for (const y of [285, 606, 949]) {
  ov.append("rect").attr("x", 0).attr("y", y).attr("width", 2423).attr("height", 2).attr("fill", "#eeeeee");
  ov.append("rect").attr("x", 0).attr("y", y + 2).attr("width", 2423).attr("height", 1.5).attr("fill", "#9a9a9a");
}
// window edges and scrollbar
ov.append("rect").attr("x", 0).attr("y", 0).attr("width", 3).attr("height", 1858).attr("fill", "#d8d8d8");
ov.append("rect").attr("x", 2423).attr("y", 0).attr("width", 5).attr("height", 1872).attr("fill", "#f2f2f2");
ov.append("rect").attr("x", 2428).attr("y", 0).attr("width", 12).attr("height", 1872).attr("fill", "#a9a9a9");
ov.append("rect").attr("x", 0).attr("y", 1858).attr("width", 2428).attr("height", 14).attr("fill", "#f1f1f1");
ov.append("rect").attr("x", 367).attr("y", 1858).attr("width", 2028).attr("height", 14).attr("fill", "#cdcdcd");
// squashed label stacks at bottom corners
const stripeCols = ["#ffffff","#ff0000","#ff0000","#ffffff","#00d000","#ffffff","#00d000","#00d000","#ffffff","#00d000","#ffffff","#00d000","#ffffff","#ffffff"];
stripeCols.forEach((c, i) => {
  ov.append("rect").attr("x", 3).attr("y", 1810 + i * 3).attr("width", 79).attr("height", 2).attr("fill", c);
  ov.append("rect").attr("x", 2343).attr("y", 1810 + i * 3).attr("width", 79).attr("height", 2).attr("fill", c);
});
// panel titles
const ttl = (t, x, y, w) => ov.append("text").attr("x", x).attr("y", y).attr("fill", YEL).attr("font-size", 15)
  .attr("textLength", w).attr("lengthAdjust", "spacingAndGlyphs").text(t);
ttl("DoE Point", 88, 20, 74);
ttl("Archicortex", 88, 305, 83);
ttl("Neocortex", 88, 627, 73);
// legend row
const leg = (t, x, w, col) => ov.append("text").attr("x", x).attr("y", 970).attr("fill", col).attr("font-size", 15)
  .attr("textLength", w).attr("lengthAdjust", "spacingAndGlyphs").text(t);
leg("EW-Croc Longsignale Abstandstest 3", 88, 272, YEL);
leg("EW-Croc Shortsignale Abstandstest 3", 380, 273, YEL);
leg("ICE Bear/Bull 1 Punkt/Kreis", 673, 201, YEL);
leg("$SPX", 892, 45, "#ffffff");
leg("S&P 500 Index", 1004, 110, "#ffffff");
leg("1 Day", 1122, 45, "#ffffff");
const box = (x, w, fill, label) => {
  ov.append("rect").attr("x", x + 0.5).attr("y", 956.5).attr("width", w).attr("height", 17).attr("fill", fill).attr("stroke", "#ffffff");
  if (label) ov.append("text").attr("x", x + 4).attr("y", 970).attr("fill", "#ffffff").attr("font-size", 13).text(label);
  ov.append("path").attr("d", `M${x + w - 10},962 l7,0 l-3.5,5 z`).attr("fill", "#ffffff");
};
box(943, 19, "#000000", null);
box(973, 21, "#000000", "I");
box(1175, 18, "#000000", null);
box(1203, 28, "#ff0000", "R");
// title texts
ov.append("text").attr("x", 687).attr("y", 1045).attr("fill", YEL).attr("font-size", 50).attr("font-weight", "bold").attr("font-style", "italic")
  .attr("textLength", 289).attr("lengthAdjust", "spacingAndGlyphs").text("Psychator");
ov.append("text").attr("x", 668).attr("y", 1125).attr("fill", YEL).attr("font-size", 32).attr("font-weight", "bold").attr("font-style", "italic")
  .attr("textLength", 352).attr("lengthAdjust", "spacingAndGlyphs").text("S&P 500 Index (Tag)");
// last price tags
const yTag = 952 + main.scale("y").apply(lastClose);
const tagTxt = f2(lastClose);
ov.append("path").attr("d", `M5,${yTag - 9} L75,${yTag - 9} L82,${yTag} L75,${yTag + 9} L5,${yTag + 9} Z`).attr("fill", "#00ff00");
ov.append("text").attr("x", 75).attr("y", yTag + 6).attr("text-anchor", "end").attr("font-size", 16).attr("font-weight", "bold").attr("fill", "#000").text(tagTxt);
ov.append("path").attr("d", `M2344,${yTag} L2352,${yTag - 9} L2422,${yTag - 9} L2422,${yTag + 9} L2352,${yTag + 9} Z`).attr("fill", "#00ff00");
ov.append("text").attr("x", 2354).attr("y", yTag + 6).attr("font-size", 16).attr("font-weight", "bold").attr("fill", "#000").text(tagTxt);
// small tool icon (top right)
ov.append("path").attr("d", "M2380,32 L2389,25 L2394,30 L2409,19").attr("fill", "none").attr("stroke", "#3b4f7a").attr("stroke-width", 1.5);
ov.append("path").attr("d", "M2378,40 L2387,33 L2387,37 L2394,37 L2394,43 L2387,43 L2387,47 Z").attr("fill", "#3aa86e");
ov.append("path").attr("d", "M2411,40 L2402,33 L2402,37 L2395,37 L2395,43 L2402,43 L2402,47 Z").attr("fill", "#f08a68");
</script></body></html>
